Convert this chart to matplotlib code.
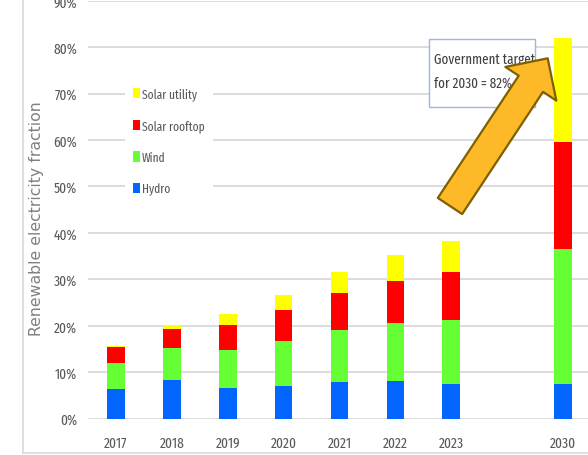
import numpy as np
import matplotlib
matplotlib.use("Agg")
import matplotlib.pyplot as plt
from matplotlib.patches import Patch, FancyArrowPatch, ArrowStyle, Rectangle
from matplotlib.lines import Line2D
from matplotlib.ticker import PercentFormatter

# Renewable share of electricity by source (fraction of total generation)
years = [2017, 2018, 2019, 2020, 2021, 2022, 2023, 2030]
hydro = [0.064, 0.082, 0.066, 0.070, 0.078, 0.081, 0.074, 0.074]
wind = [0.056, 0.070, 0.082, 0.097, 0.112, 0.125, 0.139, 0.291]
solar_rooftop = [0.034, 0.041, 0.053, 0.066, 0.080, 0.091, 0.103, 0.230]
solar_utility = [0.002, 0.008, 0.025, 0.032, 0.046, 0.055, 0.066, 0.225]
target_2030 = 0.82

series = [
    ("Hydro", hydro, "#0066FF"),
    ("Wind", wind, "#66FF33"),
    ("Solar rooftop", solar_rooftop, "#FF0000"),
    ("Solar utility", solar_utility, "#FFFF00"),
]

plt.rcParams["font.family"] = ["Fira Sans Extra Condensed", "Barlow Condensed",
                               "Carlito", "DejaVu Sans"]

W, H = 588, 456
fig = plt.figure(figsize=(W / 100, H / 100), dpi=100)
ax = fig.add_axes([88 / W, 36.5 / H, 503 / W, 417.8 / H])

# leave an empty slot before the 2030 projection
slots = np.array([i + (1 if y > 2023 else 0) for i, y in enumerate(years)], dtype=float)

bottom = np.zeros(len(years))
for name, vals, color in series:
    vals = np.asarray(vals)
    ax.bar(slots, vals, width=0.315, bottom=bottom, color=color, label=name,
           zorder=2, linewidth=0)
    bottom += vals

ax.set_xlim(-0.5, 8.5)
ax.set_ylim(0, 0.9)
ax.set_yticks(np.arange(0, 0.91, 0.1))
ax.yaxis.set_major_formatter(PercentFormatter(1.0, decimals=0))
ax.set_xticks(slots)
ax.set_xticklabels([str(y) for y in years])
ax.tick_params(axis="both", length=0, labelsize=10.5, colors="#595959")
ax.tick_params(axis="x", pad=12.5)
ax.tick_params(axis="y", pad=8)
for s in ax.spines.values():
    s.set_visible(False)
ax.grid(axis="y", color="#D9D9D9", linewidth=1.3, zorder=0)
ax.set_axisbelow(True)

fig.text(37 / W, 1 - 218.5 / H, "Renewable electricity fraction", rotation=90,
         ha="center", va="center", fontsize=11.3, color="#808080",
         family=["DejaVu Sans"])

# legend, top entry first
handles = [Patch(facecolor=c, edgecolor="none", label=n) for n, _, c in reversed(series)]
leg = ax.legend(handles=handles, loc="upper left",
                bbox_to_anchor=((125 - 88) / 503, (419.5 - 80.5) / 417.8),
                frameon=True, facecolor="white", edgecolor="none", framealpha=1,
                fancybox=False, fontsize=9.0, labelcolor="#595959",
                handlelength=0.55, handleheight=0.88, handletextpad=0.15,
                labelspacing=1.52, borderpad=0.65, borderaxespad=0)
leg.set_zorder(3)

# outer chart border
fig.add_artist(Line2D([23 / W, 23 / W], [2 / H, 1], color="#D9D9D9", lw=1.2))
fig.add_artist(Line2D([23 / W, 1], [2 / H, 2 / H], color="#D9D9D9", lw=1.2))

# target callout box
to_fig = lambda px, py: (px / W, 1 - py / H)
bx0, by0 = to_fig(429, 108)
bx1, by1 = to_fig(535, 40)
fig.add_artist(Rectangle((bx0, by0), bx1 - bx0, by1 - by0, facecolor="white",
                         edgecolor="#9DB7DD", lw=1.0, zorder=4))
fig.text(434 / W, 1 - 72 / H,
         "Government target\nfor 2030 = {:.0%}".format(target_2030),
         ha="left", va="center", fontsize=10.2, color="#404040",
         linespacing=1.8, zorder=5)

# arrow pointing at the 2030 bar
tip = ax.transData.inverted().transform((547.7, H - 59.3))
tail = ax.transData.inverted().transform((450.0, H - 207.0))
arrow = FancyArrowPatch(tail, tip, transform=ax.transData,
                        arrowstyle=ArrowStyle.Simple(head_length=22, head_width=44, tail_width=21),
                        mutation_scale=1, shrinkA=0, shrinkB=0,
                        facecolor="#FDB927", edgecolor="#7F6000", lw=1.6,
                        zorder=6, clip_on=False)
fig.add_artist(arrow)

fig.savefig("out.png", dpi=100)
